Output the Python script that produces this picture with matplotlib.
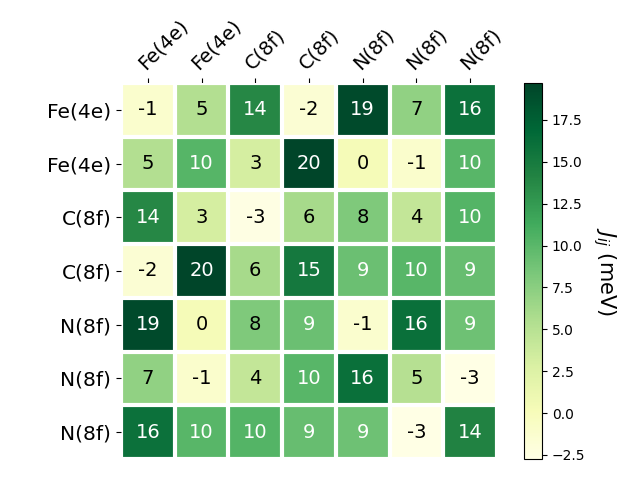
import matplotlib
matplotlib.use("Agg")
import matplotlib.pyplot as plt
import numpy as np

# site labels
sites = ["Fe(4e)", "Fe(4e)", "C(8f)", "C(8f)", "N(8f)", "N(8f)", "N(8f)"]

# exchange couplings J_ij (meV), one row per site
row0 = [-1.2, 5.3, 13.8, -1.6, 19.2, 7.1, 15.9]
row1 = [5.3, 10.2, 3.1, 19.7, 0.2, -1.1, 10.1]
row2 = [13.8, 3.1, -2.6, 6.0, 8.1, 4.2, 10.3]
row3 = [-1.6, 19.7, 6.0, 15.2, 9.1, 10.1, 9.3]
row4 = [19.2, 0.2, 8.1, 9.1, -1.3, 16.1, 9.0]
row5 = [7.1, -1.1, 4.2, 10.1, 16.1, 5.1, -2.74]
row6 = [15.9, 10.1, 10.3, 9.3, 9.0, -2.74, 14.2]

data = np.array([row0, row1, row2, row3, row4, row5, row6])

fig = plt.figure(figsize=(6.4, 4.8), dpi=100)
ax = fig.add_axes([121 / 640, 21 / 480, 376 / 640, 376 / 480])
cax = fig.add_axes([524 / 640, 21 / 480, 18 / 640, 376 / 480])

im = ax.imshow(data, cmap="YlGn", aspect="auto")
cbar = fig.colorbar(im, cax=cax)
cbar.ax.set_ylabel("$J_{ij}$ (meV)", rotation=-90, va="bottom", fontsize=15)

ax.set_xticks(np.arange(data.shape[1]), labels=sites, fontsize=14)
ax.set_yticks(np.arange(data.shape[0]), labels=sites, fontsize=14.5)
ax.tick_params(top=True, bottom=False, labeltop=True, labelbottom=False)
plt.setp(ax.get_xticklabels(), rotation=45, ha="left", rotation_mode="anchor")

for s in ax.spines.values():
    s.set_visible(False)

ax.set_xticks(np.arange(data.shape[1] + 1) - .5, minor=True)
ax.set_yticks(np.arange(data.shape[0] + 1) - .5, minor=True)
ax.grid(which="minor", color="w", linestyle="-", linewidth=3)
ax.tick_params(which="minor", bottom=False, left=False, top=False)

# annotate cells
threshold = im.norm(data.max()) / 2.
for i in range(data.shape[0]):
    for j in range(data.shape[1]):
        color = "white" if im.norm(data[i, j]) > threshold else "black"
        ax.text(j, i, f"{data[i, j]:.0f}", ha="center", va="center",
                color=color, fontsize=14)

fig.savefig("out.png", dpi=100)
